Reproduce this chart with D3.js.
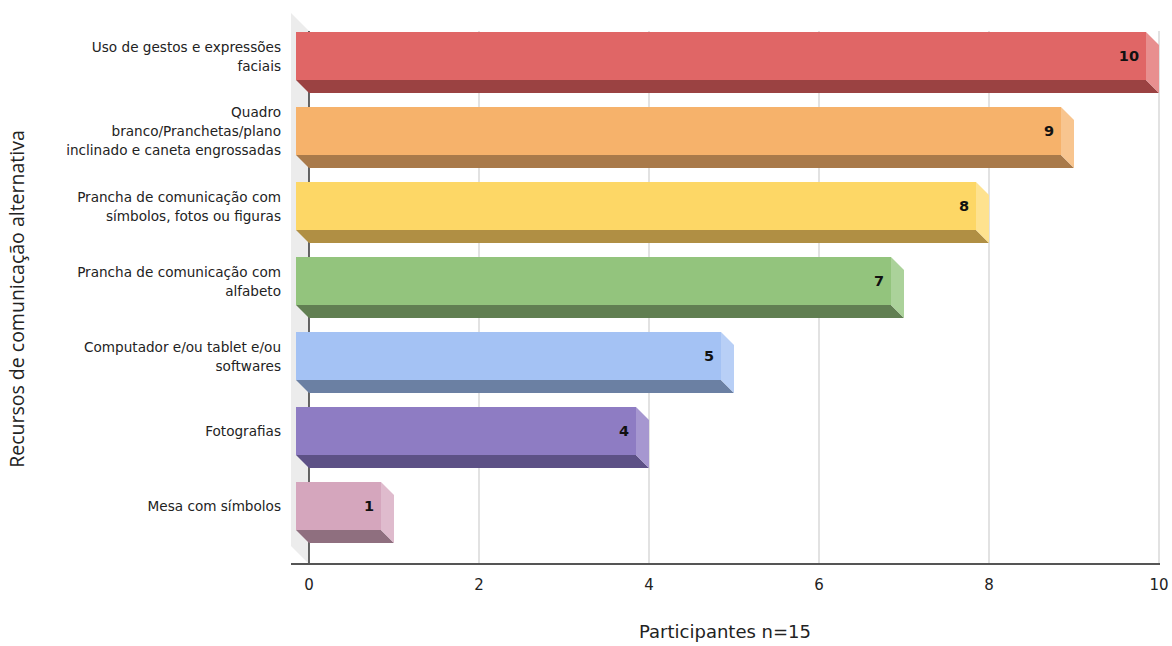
<!DOCTYPE html>
<html><head><meta charset="utf-8">
<script src="https://cdn.jsdelivr.net/npm/d3@7"></script>
<style>body{margin:0;background:#fff}svg{display:block}</style>
</head><body>
<svg id="c" width="1172" height="646"></svg>
<script>
const categories = [
  ["Uso de gestos e expressões", "faciais"],
  ["Quadro", "branco/Pranchetas/plano", "inclinado e caneta engrossadas"],
  ["Prancha de comunicação com", "símbolos, fotos ou figuras"],
  ["Prancha de comunicação com", "alfabeto"],
  ["Computador e/ou tablet e/ou", "softwares"],
  ["Fotografias"],
  ["Mesa com símbolos"]
];
const values = [10, 9, 8, 7, 5, 4, 1];
const frontColors = ["#e06666", "#f6b26b", "#fdd766", "#93c47d", "#a4c2f4", "#8e7cc3", "#d5a6bd"];
const sideColors  = ["#e88f8f", "#f8c58f", "#fee28f", "#abd29a", "#b8cff6", "#a697d0", "#dfbbcd"];
const bottomColors= ["#9b4242", "#a97a4a", "#b08f44", "#617f52", "#6b80a3", "#5d5186", "#8f6f7f"];
const xTicks = [0, 2, 4, 6, 8, 10];
const xTitle = "Participantes n=15";
const yTitle = "Recursos de comunicação alternativa";

const svg = d3.select("#c");
const D = 13;
const x = d3.scaleLinear().domain([0, 10]).range([309, 1159]);
const keys = categories.map((c, i) => i);
const y = d3.scaleBand().domain(keys).range([18, 557]).paddingInner(14/75).paddingOuter(14/75);

// left wall
svg.append("polygon")
  .attr("points", [[291,13],[309,31],[309,564],[291,546]].map(p=>p.join(",")).join(" "))
  .attr("fill", "#ececec");

// gridlines
svg.append("g").selectAll("line").data(xTicks.filter(t => t > 0)).join("line")
  .attr("x1", d => x(d)).attr("x2", d => x(d))
  .attr("y1", 31).attr("y2", 564)
  .attr("stroke", "#d9d9d9").attr("stroke-width", 1.5);

// axis line vertical
svg.append("line").attr("x1", x(0)).attr("x2", x(0)).attr("y1", 31).attr("y2", 564)
  .attr("stroke", "#333").attr("stroke-width", 1.5);
// floor line
svg.append("line").attr("x1", 291).attr("x2", 1160).attr("y1", 564).attr("y2", 564)
  .attr("stroke", "#555").attr("stroke-width", 2);

const bars = svg.append("g").selectAll("g").data(values).join("g");
bars.each(function(v, i) {
  const g = d3.select(this);
  const top = y(i), bw = y.bandwidth();
  const fx0 = x(0) - D, fx1 = x(v) - D;
  const fy0 = top, fy1 = top + bw - D;
  g.append("polygon")
    .attr("points", [[fx0,fy1],[fx1,fy1],[fx1+D,fy1+D],[fx0+D,fy1+D]].map(p=>p.join(",")).join(" "))
    .attr("fill", bottomColors[i]);
  g.append("polygon")
    .attr("points", [[fx1,fy0],[fx1+D,fy0+D],[fx1+D,fy1+D],[fx1,fy1]].map(p=>p.join(",")).join(" "))
    .attr("fill", sideColors[i]);
  g.append("rect").attr("x", fx0).attr("y", fy0).attr("width", fx1 - fx0).attr("height", fy1 - fy0)
    .attr("fill", frontColors[i]);
  g.append("text").attr("x", fx1 - 7).attr("y", (fy0 + fy1) / 2 + 1)
    .attr("text-anchor", "end").attr("dominant-baseline", "middle")
    .attr("font-family", "DejaVu Sans").attr("font-weight", "bold").attr("font-size", 14.5)
    .attr("fill", "#111").text(v);
});

// category labels
const cl = svg.append("g");
categories.forEach((lines, i) => {
  const cy = y(i) + (y.bandwidth() - D) / 2 + 1;
  const lh = 19;
  const t = cl.append("text").attr("text-anchor", "end")
    .attr("font-family", "DejaVu Sans").attr("font-size", 13.6).attr("fill", "#222");
  lines.forEach((ln, k) => {
    t.append("tspan").attr("x", 281)
      .attr("y", cy + (k - (lines.length - 1) / 2) * lh)
      .attr("dominant-baseline", "middle").text(ln);
  });
});

// x tick labels
svg.append("g").selectAll("text").data(xTicks).join("text")
  .attr("x", d => x(d)).attr("y", 585).attr("text-anchor", "middle")
  .attr("dominant-baseline", "middle")
  .attr("font-family", "DejaVu Sans").attr("font-size", 15).attr("fill", "#222")
  .text(d => d);

svg.append("text").attr("x", 725).attr("y", 633).attr("text-anchor", "middle")
  .attr("dominant-baseline", "middle")
  .attr("font-family", "DejaVu Sans").attr("font-size", 18).attr("fill", "#222").text(xTitle);

svg.append("text").attr("transform", "translate(19,299) rotate(-90)").attr("text-anchor", "middle")
  .attr("dominant-baseline", "middle")
  .attr("font-family", "Open Sans").attr("font-size", 19.5).attr("fill", "#222").text(yTitle);
</script>
</body></html>
